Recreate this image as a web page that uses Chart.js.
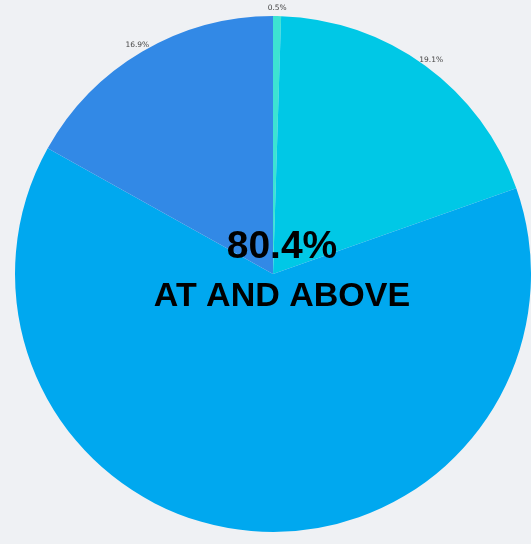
<!DOCTYPE html>
<html>
<head>
<meta charset="utf-8">
<script src="https://cdn.jsdelivr.net/npm/chart.js@4"></script>
<style>
  html, body { margin: 0; padding: 0; background: #eff1f4; }
  canvas { display: block; }
</style>
</head>
<body>
<canvas id="pieChart" width="531" height="544"></canvas>
<script>
const categorii = ['Segment 1', 'Segment 2', 'Segment 3', 'Segment 4'];
const procente = [0.5, 19.1, 63.5, 16.9];
const culori = ['#3de3d2', '#00c8e6', '#00a8ef', '#3289e6'];
const arataEticheta = [true, true, false, true];
const textCentru = ['80.4%', 'AT AND ABOVE'];

const eticheteExterioare = {
    id: 'eticheteExterioare',
    afterDraw(chart) {
        const ctx = chart.ctx;
        const meta = chart.getDatasetMeta(0);
        ctx.save();
        ctx.font = '7.5px "DejaVu Sans", sans-serif';
        ctx.fillStyle = '#444';
        ctx.textAlign = 'center';
        ctx.textBaseline = 'middle';
        meta.data.forEach((arc, i) => {
            if (!arataEticheta[i]) return;
            const unghi = (arc.startAngle + arc.endAngle) / 2;
            const r = arc.outerRadius + 10;
            const x = arc.x + Math.cos(unghi) * r;
            const y = arc.y + Math.sin(unghi) * r + 2;
            ctx.fillText(procente[i].toFixed(1) + '%', x, y);
        });

        const cx = 282;
        ctx.fillStyle = '#000';
        ctx.font = 'bold 39px "Liberation Sans", sans-serif';
        ctx.fillText(textCentru[0], cx, 247);
        ctx.font = 'bold 34px "Liberation Sans", sans-serif';
        ctx.fillText(textCentru[1], cx, 297);
        ctx.restore();
    }
};

document.addEventListener('DOMContentLoaded', () => {
    const ctx = document.getElementById('pieChart').getContext('2d');
    new Chart(ctx, {
        type: 'pie',
        data: {
            labels: categorii,
            datasets: [{
                data: procente,
                backgroundColor: culori,
                borderWidth: 0
            }]
        },
        options: {
            responsive: false,
            animation: false,
            layout: { padding: { left: 15, right: 0, top: 16, bottom: 12 } },
            plugins: {
                legend: { display: false },
                tooltip: { enabled: false }
            }
        },
        plugins: [eticheteExterioare]
    });
});
</script>
</body>
</html>
